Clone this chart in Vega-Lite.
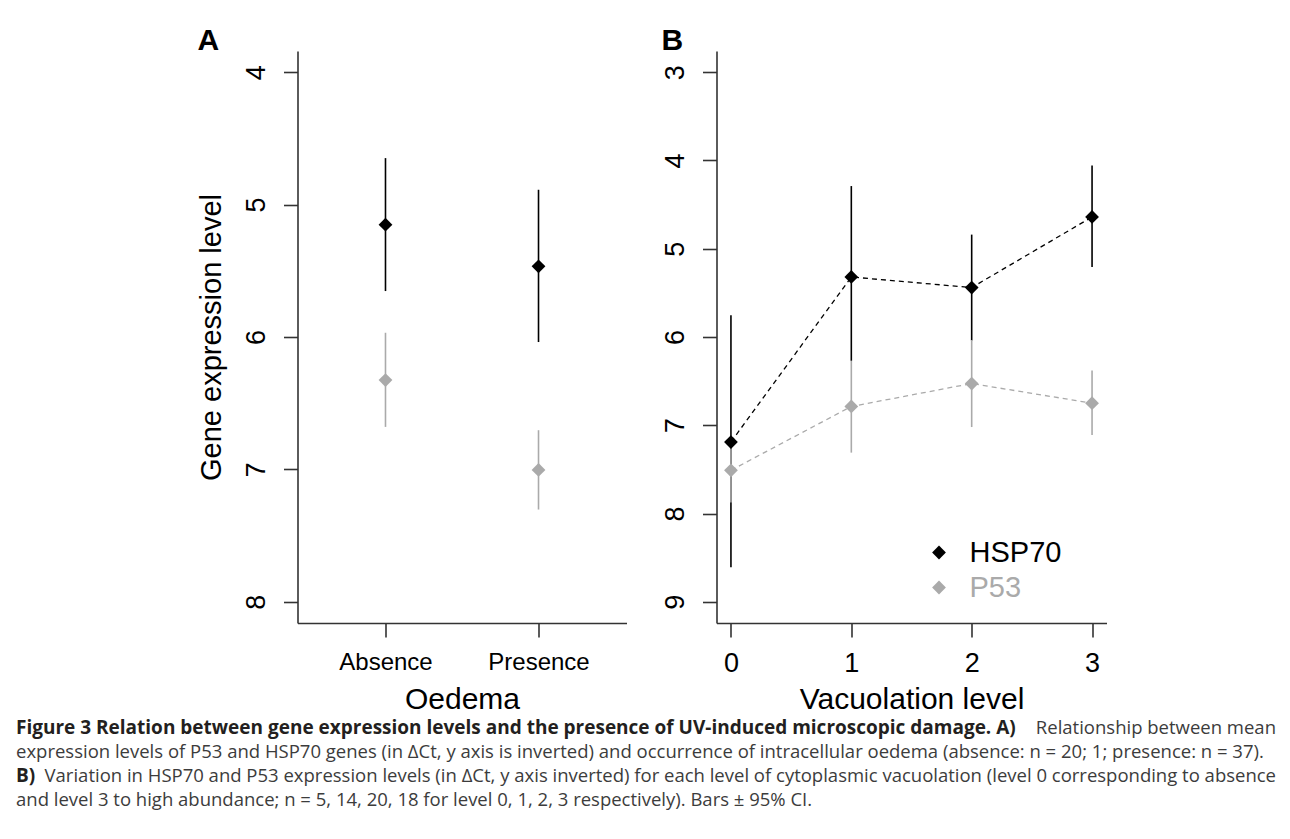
{
  "$schema": "https://vega.github.io/schema/vega-lite/v6.json",
  "padding": {"left": 16, "top": 26, "right": -98, "bottom": 0},
  "autosize": {"type": "pad"},
  "background": "white",
  "center": true,
  "spacing": 2,
  "datasets": {
    "oedema": [
      {"gene": "HSP70", "oedema": "Absence", "mean": 5.152, "lo": 4.649, "hi": 5.653},
      {"gene": "HSP70", "oedema": "Presence", "mean": 5.466, "lo": 4.888, "hi": 6.038},
      {"gene": "P53", "oedema": "Absence", "mean": 6.325, "lo": 5.968, "hi": 6.679},
      {"gene": "P53", "oedema": "Presence", "mean": 7.004, "lo": 6.704, "hi": 7.303}
    ],
    "vacuolation": [
      {"gene": "HSP70", "level": 0, "mean": 7.19, "lo": 5.754, "hi": 8.608},
      {"gene": "HSP70", "level": 1, "mean": 5.32, "lo": 4.29, "hi": 6.27},
      {"gene": "HSP70", "level": 2, "mean": 5.44, "lo": 4.84, "hi": 6.04},
      {"gene": "HSP70", "level": 3, "mean": 4.64, "lo": 4.056, "hi": 5.207},
      {"gene": "P53", "level": 0, "mean": 7.51, "lo": 7.145, "hi": 7.876},
      {"gene": "P53", "level": 1, "mean": 6.787, "lo": 6.27, "hi": 7.31},
      {"gene": "P53", "level": 2, "mean": 6.527, "lo": 6.035, "hi": 7.02},
      {"gene": "P53", "level": 3, "mean": 6.75, "lo": 6.38, "hi": 7.11}
    ],
    "caption": [
      {"line": 1, "lead": "Figure 3 Relation between gene expression levels and the presence of UV-induced microscopic damage. A)", "body": "Relationship between mean"},
      {"line": 2, "lead": "", "body": "expression levels of P53 and HSP70 genes (in ΔCt, y axis is inverted) and occurrence of intracellular oedema (absence: n = 20; 1; presence: n = 37)."},
      {"line": 3, "lead": "B)", "body": "Variation in HSP70 and P53 expression levels (in ΔCt, y axis inverted) for each level of cytoplasmic vacuolation (level 0 corresponding to absence"},
      {"line": 4, "lead": "", "body": "and level 3 to high abundance; n = 5, 14, 20, 18 for level 0, 1, 2, 3 respectively). Bars ± 95% CI."}
    ]
  },
  "vconcat": [
    {
      "hconcat": [
        {
          "width": 329,
          "height": 572,
          "title": {"text": "A"},
          "data": {"name": "oedema"},
          "encoding": {
            "x": {
              "field": "oedema", "type": "nominal",
              "scale": {"type": "point", "padding": 0.575, "domain": ["Absence", "Presence"]},
              "axis": {"title": "Oedema", "labelAngle": 0, "labelFontSize": 24, "titlePadding": 10}
            }
          },
          "layer": [
            {
              "mark": {"type": "rule", "strokeWidth": 1.6},
              "encoding": {
                "y": {"field": "lo", "type": "quantitative",
                      "scale": {"domain": [3.84, 8.16], "reverse": true, "nice": false, "zero": false},
                      "axis": {"title": "Gene expression level", "titleFontSize": 29, "titlePadding": 16, "values": [4, 5, 6, 7, 8], "format": "d", "labelAngle": -90}},
                "y2": {"field": "hi"},
                "color": {"field": "gene", "type": "nominal",
                          "scale": {"domain": ["HSP70", "P53"], "range": ["#000000", "#aaaaaa"]},
                          "legend": null}
              }
            },
            {
              "mark": {"type": "point", "shape": "diamond", "filled": true, "size": 190, "opacity": 1},
              "encoding": {
                "y": {"field": "mean", "type": "quantitative"},
                "color": {"field": "gene", "type": "nominal", "legend": null}
              }
            }
          ]
        },
        {
          "width": 390,
          "height": 572,
          "title": {"text": "B"},
          "data": {"name": "vacuolation"},
          "encoding": {
            "x": {
              "field": "level", "type": "quantitative",
              "scale": {"domain": [-0.12, 3.12], "nice": false, "zero": false},
              "axis": {"title": "Vacuolation level", "values": [0, 1, 2, 3], "format": "d", "titlePadding": 8}
            }
          },
          "layer": [
            {
              "mark": {"type": "rule", "strokeWidth": 1.6},
              "encoding": {
                "y": {"field": "lo", "type": "quantitative",
                      "scale": {"domain": [2.76, 9.24], "reverse": true, "nice": false, "zero": false},
                      "axis": {"title": null, "values": [3, 4, 5, 6, 7, 8, 9], "format": "d", "labelAngle": -90}},
                "y2": {"field": "hi"},
                "color": {
                  "field": "gene", "type": "nominal",
                  "scale": {"domain": ["HSP70", "P53"], "range": ["#000000", "#aaaaaa"]},
                  "legend": {
                    "title": null,
                    "orient": "none",
                    "legendX": 208,
                    "legendY": 487,
                    "padding": 0,
                    "symbolType": "diamond",
                    "symbolSize": 190,
                    "symbolStrokeWidth": 0,
                    "labelFontSize": 29,
                    "labelFont": "Liberation Sans",
                    "labelOffset": 16,
                    "rowPadding": 5,
                    "encode": {
                      "symbols": {"update": {"fill": {"signal": "datum.value === 'P53' ? '#aaaaaa' : '#000000'"}, "shape": {"value": "diamond"}, "opacity": {"value": 1}}},
                      "labels": {"update": {"fill": {"signal": "datum.value === 'P53' ? '#aaaaaa' : '#000000'"}}}
                    }
                  }
                }
              }
            },
            {
              "mark": {"type": "line", "strokeDash": [5, 4], "strokeWidth": 1.3},
              "encoding": {
                "y": {"field": "mean", "type": "quantitative"},
                "color": {"field": "gene", "type": "nominal"}
              }
            },
            {
              "mark": {"type": "point", "shape": "diamond", "filled": true, "size": 190, "opacity": 1},
              "encoding": {
                "y": {"field": "mean", "type": "quantitative"},
                "color": {"field": "gene", "type": "nominal"}
              }
            }
          ]
        }
      ],
      "spacing": 34,
      "resolve": {"scale": {"color": "independent"}}
    },
    {
      "width": 1372,
      "height": 96,
      "data": {"name": "caption"},
      "encoding": {
        "y": {"field": "line", "type": "ordinal", "scale": {"type": "point", "padding": 0.5}, "axis": null}
      },
      "layer": [
        {
          "transform": [{"filter": "datum.lead !== ''"}],
          "mark": {"type": "text", "align": "left", "baseline": "middle", "font": "Open Sans", "fontWeight": "bold", "fontSize": 19, "color": "#231f20"},
          "encoding": {
            "x": {"datum": 0, "type": "quantitative", "scale": {"domain": [0, 1.08889], "nice": false, "zero": false}, "axis": null},
            "text": {"field": "lead"}
          }
        },
        {
          "transform": [{"filter": "datum.lead !== ''"}],
          "mark": {"type": "text", "align": "right", "baseline": "middle", "font": "Open Sans", "fontSize": 18.5, "color": "#3c3c3c"},
          "encoding": {
            "x": {"datum": 1, "type": "quantitative"},
            "text": {"field": "body"}
          }
        },
        {
          "transform": [{"filter": "datum.lead === ''"}],
          "mark": {"type": "text", "align": "left", "baseline": "middle", "font": "Open Sans", "fontSize": 18.5, "color": "#3c3c3c"},
          "encoding": {
            "x": {"datum": 0, "type": "quantitative"},
            "text": {"field": "body"}
          }
        }
      ]
    }
  ],
  "config": {
    "font": "Liberation Sans",
    "view": {"stroke": null},
    "title": {"anchor": "start", "frame": "bounds", "fontSize": 30, "fontWeight": "bold", "font": "Liberation Sans", "color": "#000000", "offset": -5, "baseline": "alphabetic"},
    "axis": {
      "grid": false,
      "domainColor": "#333333",
      "domainWidth": 1.6,
      "tickColor": "#333333",
      "tickWidth": 1.6,
      "tickSize": 14,
      "labelPadding": 13,
      "labelFontSize": 27,
      "labelColor": "#000000",
      "labelFont": "Liberation Sans",
      "titleFont": "Liberation Sans",
      "titleFontSize": 30,
      "titleFontWeight": "normal",
      "titleColor": "#000000",
      "titlePadding": 12
    }
  }
}
